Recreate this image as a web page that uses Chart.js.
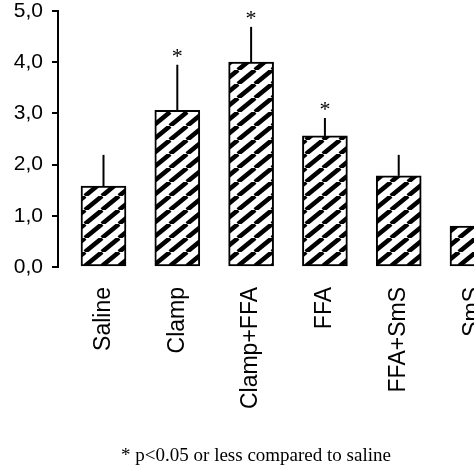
<!DOCTYPE html>
<html>
<head>
<meta charset="utf-8">
<script src="https://cdn.jsdelivr.net/npm/chart.js@4/dist/chart.umd.min.js"></script>
<style>
  html, body { margin: 0; padding: 0; background: #fff; overflow: hidden; }
  #wrap { width: 474px; height: 474px; position: relative; }
</style>
</head>
<body>
<div id="wrap"><canvas id="c"></canvas></div>
<script>
// ---- data ----
const categories = ['Saline', 'Clamp', 'Clamp+FFA', 'FFA', 'FFA+SmS', 'SmS'];
const means = [1.58, 3.06, 4.00, 2.56, 1.78, 0.80];
const errors = [0.61, 0.89, 0.69, 0.35, 0.41, null];
const significant = [false, true, true, true, false, false];
const yTickLabels = ['0,0', '1,0', '2,0', '3,0', '4,0', '5,0'];
const footnote = '* p<0.05 or less compared to saline';

// ---- hatch pattern ----
function makeHatch() {
  const w = 17, h = 14;
  const c = document.createElement('canvas');
  c.width = w; c.height = h;
  const g = c.getContext('2d');
  g.fillStyle = '#fff';
  g.fillRect(0, 0, w, h);
  g.strokeStyle = '#000';
  g.lineWidth = 4.5;
  g.beginPath();
  for (const x0 of [-w, 0, w]) {
    g.moveTo(x0, h);
    g.lineTo(x0 + w, 0);
  }
  g.stroke();
  return g.createPattern(c, 'repeat');
}

const annotations = {
  id: 'annotations',
  afterDatasetsDraw(chart) {
    const ctx = chart.ctx;
    const xs = chart.scales.x, ys = chart.scales.y;
    ctx.save();
    ctx.strokeStyle = '#000';
    ctx.lineWidth = 2;
    means.forEach((m, i) => {
      const e = errors[i];
      if (e == null) return;
      const x = xs.getPixelForValue(i);
      const y0 = ys.getPixelForValue(m);
      const y1 = ys.getPixelForValue(m + e);
      ctx.beginPath();
      ctx.moveTo(x, y0);
      ctx.lineTo(x, y1);
      ctx.stroke();
      if (significant[i]) {
        ctx.fillStyle = '#000';
        ctx.font = '22px "Liberation Serif", "Times New Roman", serif';
        ctx.textAlign = 'center';
        ctx.textBaseline = 'alphabetic';
        ctx.fillText('*', x, y1 - 2);
      }
    });
    ctx.restore();
  },
  afterDraw(chart) {
    const ctx = chart.ctx;
    ctx.save();
    ctx.fillStyle = '#000';
    ctx.font = '19px "Liberation Serif", "Times New Roman", serif';
    ctx.textAlign = 'center';
    ctx.textBaseline = 'middle';
    ctx.fillText(footnote, 256, 456);
    ctx.restore();
  }
};

new Chart(document.getElementById('c'), {
  type: 'bar',
  data: {
    datasets: [{
      data: means.map((v, i) => ({ x: i, y: v })),
      backgroundColor: makeHatch(),
      borderColor: '#000',
      borderWidth: 2,
      borderSkipped: false,
      barThickness: 45
    }]
  },
  options: {
    responsive: true,
    maintainAspectRatio: false,
    animation: false,
    devicePixelRatio: 1,
    layout: { padding: { top: 0, left: 0, right: 0, bottom: 0 } },
    plugins: { legend: { display: false }, tooltip: { enabled: false }, title: { display: false } },
    scales: {
      x: {
        type: 'linear',
        min: -0.6165,
        max: 5.02,
        offset: false,
        grid: { display: false, drawTicks: false, offset: false },
        border: { display: false },
        afterBuildTicks(scale) { scale.ticks = categories.map((c, i) => ({ value: i })); },
        afterFit(scale) { scale.height = 207; scale.paddingLeft = 0; scale.paddingRight = 0; },
        ticks: {
          autoSkip: false,
          minRotation: 90,
          maxRotation: 90,
          padding: 20,
          color: '#000',
          font: { family: '"Liberation Sans", Arial, sans-serif', size: 23 },
          callback: (v) => categories[v] ?? ''
        }
      },
      y: {
        min: 0,
        max: 5,
        grid: { display: true, drawOnChartArea: false, drawTicks: true, tickLength: 6, color: '#000', lineWidth: 2 },
        border: { display: true, color: '#000', width: 2 },
        afterFit(scale) { scale.width = 58; scale.paddingTop = 11; scale.paddingBottom = 0; },
        ticks: {
          stepSize: 1,
          padding: 9,
          color: '#000',
          font: { family: '"Liberation Sans", Arial, sans-serif', size: 21, lineHeight: 1.0 },
          callback: (v, i) => yTickLabels[i]
        }
      }
    }
  },
  plugins: [annotations]
});
</script>
</body>
</html>
